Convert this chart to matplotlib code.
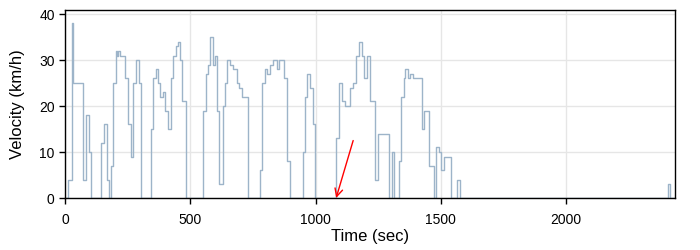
import matplotlib
matplotlib.use('Agg')
import matplotlib.pyplot as plt

# Instantes (s) em que a velocidade muda e o valor que vale a partir dali (km/h)
tempo = [0, 13, 27, 33, 73, 85, 96, 105, 145, 154, 166, 177, 182, 193, 202, 209,
         213, 219, 241, 253, 262, 273, 283, 295, 303, 342, 350, 362, 370, 379,
         389, 399, 412, 421, 432, 443, 451, 459, 468, 481, 552, 561, 572, 580,
         589, 598, 608, 616, 629, 638, 647, 658, 669, 685, 695, 708, 730, 778,
         788, 798, 808, 818, 828, 847, 855, 873, 887, 897, 949, 957, 967, 978,
         989, 997, 1082, 1095, 1106, 1116, 1138, 1148, 1161, 1175, 1185, 1195,
         1207, 1217, 1236, 1250, 1293, 1304, 1313, 1333, 1341, 1353, 1357, 1370,
         1376, 1390, 1423, 1434, 1454, 1474, 1482, 1491, 1502, 1512, 1540, 1563,
         1577, 2405, 2413, 2434]
velocidade = [0, 4, 38, 25, 4, 18, 10, 0, 12, 16, 4, 0, 7, 25, 32, 31,
              32, 31, 26, 16, 9, 25, 30, 25, 0, 15, 26, 28, 25, 22,
              23, 19, 15, 26, 31, 33, 34, 30, 21, 0, 19, 27, 29, 35,
              29, 31, 19, 3, 20, 25, 30, 29, 28, 25, 24, 22, 0, 6,
              25, 28, 27, 29, 30, 28, 30, 26, 8, 0, 10, 22, 27, 24,
              16, 0, 13, 25, 21, 20, 24, 25, 31, 34, 31, 26,
              31, 21, 4, 14, 0, 10, 0, 8, 22, 26, 28, 26,
              27, 26, 15, 19, 7, 0, 11, 10, 6, 9, 0, 4,
              0, 3, 0, 0]

# Seta vermelha de destaque (ponta e cauda)
seta_ponta = (1082, 0)
seta_cauda = (1150, 12.5)

cor_linha = '#9db4c9'


def main():
    plt.rcParams['font.family'] = ['Liberation Sans', 'DejaVu Sans']

    fig = plt.figure(figsize=(7, 2.5), dpi=100)
    ax = fig.add_axes([0.093, 0.208, 0.871, 0.752])

    ax.plot(tempo, velocidade, drawstyle='steps-post', color=cor_linha, linewidth=1.0)

    ax.annotate('', xy=seta_ponta, xytext=seta_cauda,
                arrowprops=dict(arrowstyle='->', color='red', lw=1.0,
                                shrinkA=0, shrinkB=0, mutation_scale=14))

    ax.set_xlim(0, 2434)
    ax.set_ylim(0, 40.9)
    ax.set_xticks([0, 500, 1000, 1500, 2000])
    ax.set_yticks([0, 10, 20, 30, 40])
    ax.grid(True, color='#e6e6e6', linewidth=1.0)
    ax.set_axisbelow(True)

    for lado in ax.spines.values():
        lado.set_color('black')
        lado.set_linewidth(1.0)
    ax.tick_params(direction='out', length=4, width=1, colors='black', labelsize=10)
    ax.tick_params(axis='x', pad=7)

    ax.set_xlabel('Time (sec)', fontsize=12, labelpad=1)
    ax.set_ylabel('Velocity (km/h)', fontsize=12, labelpad=10)

    fig.savefig('out.png', dpi=100)


if __name__ == "__main__":
    main()
